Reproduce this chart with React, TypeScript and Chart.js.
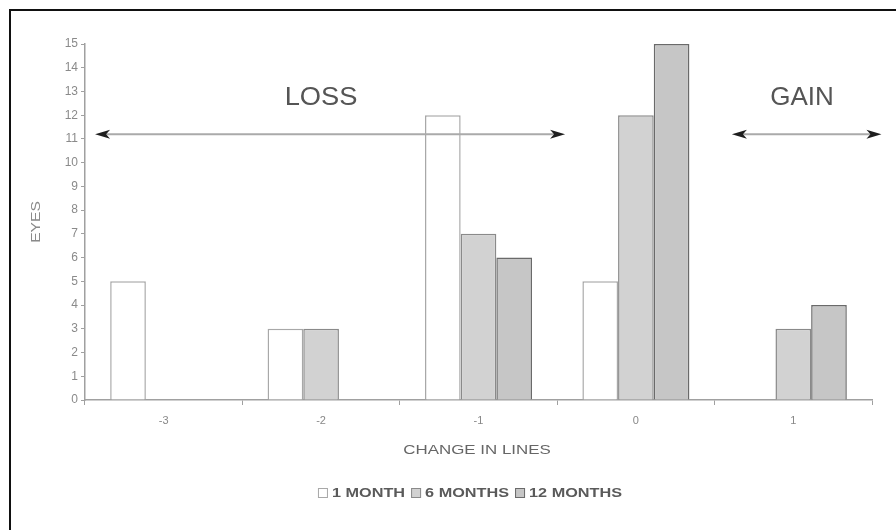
import React, { useEffect, useRef } from "react";
import { Chart, registerables } from "chart.js";

Chart.register(...registerables);

const categories = ["-3", "-2", "-1", "0", "1"];
const oneMonth = [5, 3, 12, 5, 0];
const sixMonths = [0, 3, 7, 12, 3];
const twelveMonths = [0, 0, 6, 15, 4];
const seriesNames = ["1 MONTH", "6 MONTHS", "12 MONTHS"];
const yTicks = [0, 15];

const W = 896;
const H = 530;

function drawText(
  ctx: CanvasRenderingContext2D,
  text: string,
  cx: number,
  cy: number,
  size: number,
  color: string,
  sx = 1,
  rot = 0,
  weight = "normal"
) {
  ctx.save();
  ctx.translate(cx, cy);
  if (rot) ctx.rotate(rot);
  ctx.scale(sx, 1);
  ctx.font = `${weight} ${size}px Arial, "Liberation Sans", sans-serif`;
  ctx.fillStyle = color;
  ctx.textAlign = "center";
  ctx.textBaseline = "middle";
  ctx.fillText(text, 0, 0);
  ctx.restore();
}

function arrowHead(ctx: CanvasRenderingContext2D, x: number, y: number, dir: number) {
  ctx.beginPath();
  ctx.moveTo(x, y);
  ctx.lineTo(x - dir * 15, y - 4.5);
  ctx.lineTo(x - dir * 11, y);
  ctx.lineTo(x - dir * 15, y + 4.5);
  ctx.closePath();
  ctx.fillStyle = "#1e1e1e";
  ctx.fill();
}

function drawArrow(ctx: CanvasRenderingContext2D, x1: number, x2: number, y: number) {
  ctx.save();
  ctx.strokeStyle = "#aaaaaa";
  ctx.lineWidth = 2;
  ctx.beginPath();
  ctx.moveTo(x1 + 8, y);
  ctx.lineTo(x2 - 8, y);
  ctx.stroke();
  arrowHead(ctx, x1, y, -1);
  arrowHead(ctx, x2, y, 1);
  ctx.restore();
}

const decorPlugin = {
  id: "decor",
  afterDraw(chart: any) {
    const ctx: CanvasRenderingContext2D = chart.ctx;
    const xs = chart.scales.x;
    const ys = chart.scales.y;
    // outer frame
    ctx.save();
    ctx.strokeStyle = "#111";
    ctx.lineWidth = 2;
    ctx.beginPath();
    ctx.moveTo(10, H);
    ctx.lineTo(10, 10);
    ctx.lineTo(W, 10);
    ctx.stroke();
    ctx.restore();

    // annotations
    const ay = ys.getPixelForValue(11.2);
    drawArrow(ctx, xs.getPixelForValue(-0.436), xs.getPixelForValue(2.55), ay);
    drawArrow(ctx, xs.getPixelForValue(3.61), xs.getPixelForValue(4.56), ay);
    const ty = ys.getPixelForValue(12.73);
    drawText(ctx, "LOSS", xs.getPixelForValue(1.0), ty, 26, "#555", 1.05);
    drawText(ctx, "GAIN", xs.getPixelForValue(4.055), ty, 26, "#555", 1.0);

    // axis titles
    drawText(ctx, "EYES", 37, 222, 12, "#8a8a8a", 1.3, -Math.PI / 2);
    drawText(ctx, "CHANGE IN LINES", 477, 450, 13, "#666", 1.3);

    // legend
    const items = chart.data.datasets.map((d: any) => ({
      label: d.label,
      fill: d.backgroundColor,
      stroke: d.borderColor,
    }));
    const size = 13;
    const sx = 1.25;
    ctx.save();
    ctx.font = `bold ${size}px Arial, "Liberation Sans", sans-serif`;
    const parts = items.map((it: any) => ({ ...it, w: ctx.measureText(it.label).width * sx }));
    ctx.restore();
    const box = 10;
    const gapBox = 4;
    const gapItem = 6;
    const total = parts.reduce((s: number, p: any) => s + box + gapBox + p.w, 0) + gapItem * (parts.length - 1);
    let x = 470 - total / 2;
    const ly = 493;
    for (const p of parts) {
      ctx.save();
      ctx.fillStyle = p.fill;
      ctx.fillRect(x, ly - box / 2, box, box);
      ctx.strokeStyle = p.stroke;
      ctx.lineWidth = 1;
      ctx.strokeRect(x + 0.5, ly - box / 2 + 0.5, box - 1, box - 1);
      ctx.restore();
      x += box + gapBox;
      drawText(ctx, p.label, x + p.w / 2, ly, size, "#5a5a5a", sx, 0, "bold");
      x += p.w + gapItem;
    }
  },
};

export default function App() {
  const ref = useRef<HTMLCanvasElement>(null);
  useEffect(() => {
    document.body.style.margin = "0";
    const canvas = ref.current!;
    const chart = new Chart(canvas, {
      type: "bar",
      data: {
        labels: categories,
        datasets: [
          {
            label: seriesNames[0],
            data: oneMonth,
            backgroundColor: "#ffffff",
            borderColor: "#a8a8a8",
            borderWidth: 1.5,
          },
          {
            label: seriesNames[1],
            data: sixMonths,
            backgroundColor: "#d2d2d2",
            borderColor: "#8a8a8a",
            borderWidth: 1.5,
          },
          {
            label: seriesNames[2],
            data: twelveMonths,
            backgroundColor: "#c6c6c6",
            borderColor: "#6a6a6a",
            borderWidth: 1.5,
          },
        ],
      },
      options: {
        responsive: false,
        animation: false,
        devicePixelRatio: 1,
        layout: { padding: { left: 0, top: 44, right: 24, bottom: 100 } },
        plugins: {
          legend: { display: false },
          tooltip: { enabled: false },
        },
        datasets: {
          bar: { barPercentage: 1.0, categoryPercentage: 0.68 },
        },
        scales: {
          x: {
            offset: true,
            grid: {
              offset: true,
              drawOnChartArea: false,
              drawTicks: true,
              tickLength: 5,
              color: "#a0a0a0",
            },
            border: { display: true, color: "#a0a0a0", width: 1.5 },
            ticks: {
              color: "#888",
              font: { size: 11, family: "Arial, 'Liberation Sans', sans-serif" },
              padding: 9,
            },
            afterFit: (s: any) => {
              s.height = 30;
            },
          },
          y: {
            min: yTicks[0],
            max: yTicks[1],
            ticks: {
              stepSize: 1,
              color: "#8a8a8a",
              font: { size: 12, family: "Arial, 'Liberation Sans', sans-serif" },
              padding: 3,
            },
            grid: {
              drawOnChartArea: false,
              drawTicks: true,
              tickLength: 4,
              color: "#a0a0a0",
            },
            border: { display: true, color: "#a0a0a0", width: 1.5 },
            afterFit: (s: any) => {
              s.width = 85;
            },
          },
        },
      },
      plugins: [decorPlugin],
    });
    return () => chart.destroy();
  }, []);
  return <canvas ref={ref} width={W} height={H} style={{ display: "block" }} />;
}
